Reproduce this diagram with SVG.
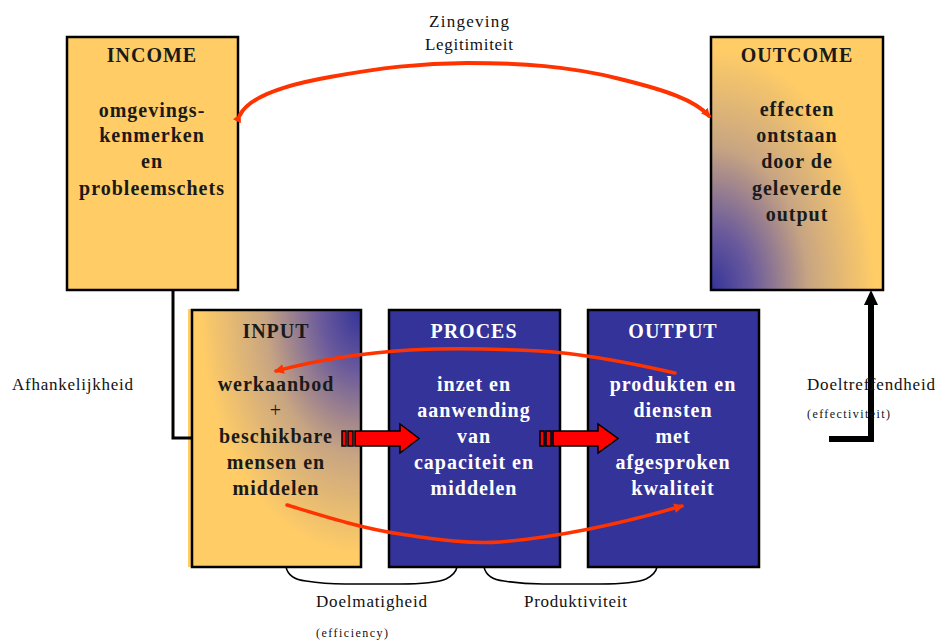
<svg xmlns="http://www.w3.org/2000/svg" width="938" height="641" viewBox="0 0 938 641">
<style>
.box{stroke:#000;stroke-width:2.5}
.bt{font-weight:bold;font-size:20px;text-anchor:middle;letter-spacing:1px}
.dark{fill:#1a1a1a}
.light{fill:#ffffff}
.lbl{font-size:17px;fill:#111}
.sm{font-size:12px;fill:#111}
.red{fill:none;stroke:#ff3300;stroke-linecap:round;stroke-linejoin:round}
.blk{fill:none;stroke:#000;stroke-linejoin:miter}
.barrow{fill:#ff0000;stroke:#000;stroke-width:1.5}
</style>
<defs>
<radialGradient id="gOut" cx="0" cy="1" r="0.95" fx="0" fy="1">
<stop offset="0" stop-color="#333399"/>
<stop offset="0.25" stop-color="#6a5a9c"/>
<stop offset="0.6" stop-color="#c8a582"/>
<stop offset="1" stop-color="#ffcc66"/>
</radialGradient>
<radialGradient id="gIn" cx="1" cy="0" r="0.95" fx="1" fy="0">
<stop offset="0" stop-color="#333399"/>
<stop offset="0.25" stop-color="#6a5a9c"/>
<stop offset="0.6" stop-color="#c8a582"/>
<stop offset="1" stop-color="#ffcc66"/>
</radialGradient>
<marker id="ah" viewBox="0 0 10 10" refX="8" refY="5" markerWidth="2.2" markerHeight="2.2" orient="auto" markerUnits="strokeWidth">
<path d="M0,0 L10,5 L0,10 Z" fill="#ff3300"/>
</marker>
<marker id="ah2" viewBox="0 0 10 10" refX="8" refY="5" markerWidth="2.8" markerHeight="2.8" orient="auto" markerUnits="strokeWidth">
<path d="M0,0 L10,5 L0,10 Z" fill="#ff3300"/>
</marker>
</defs>

<g font-family="Liberation Serif, Times New Roman, Times, serif">
<g id="income">
<rect class="box" x="67" y="37" width="171" height="253" fill="#ffcc66"/>
<text class="bt dark" x="152" y="62">INCOME</text>
<text class="bt dark" x="152" y="117">omgevings-</text>
<text class="bt dark" x="152" y="142">kenmerken</text>
<text class="bt dark" x="152" y="168">en</text>
<text class="bt dark" x="152" y="195">probleemschets</text>
</g>

<g id="outcome">
<rect class="box" x="711" y="37" width="172" height="253" fill="url(#gOut)"/>
<text class="bt dark" x="797" y="62">OUTCOME</text>
<text class="bt dark" x="797" y="116">effecten</text>
<text class="bt dark" x="797" y="142">ontstaan</text>
<text class="bt dark" x="797" y="168">door de</text>
<text class="bt dark" x="797" y="195">geleverde</text>
<text class="bt dark" x="797" y="221">output</text>
</g>

<g id="input">
<rect x="188" y="309" width="170" height="258" fill="#ffcc66"/>
<rect class="box" x="192" y="310" width="169" height="257" fill="url(#gIn)"/>
<text class="bt dark" x="276" y="338">INPUT</text>
<text class="bt dark" x="276" y="391">werkaanbod</text>
<text class="bt dark" x="276" y="417" font-weight="normal" style="font-weight:normal">+</text>
<text class="bt dark" x="276" y="443">beschikbare</text>
<text class="bt dark" x="276" y="469">mensen en</text>
<text class="bt dark" x="276" y="495">middelen</text>
</g>

<g id="proces">
<rect class="box" x="389" y="310" width="171" height="257" fill="#333399"/>
<text class="bt light" x="474" y="338">PROCES</text>
<text class="bt light" x="474" y="391">inzet en</text>
<text class="bt light" x="474" y="417">aanwending</text>
<text class="bt light" x="474" y="443">van</text>
<text class="bt light" x="474" y="469">capaciteit en</text>
<text class="bt light" x="474" y="495">middelen</text>
</g>

<g id="output">
<rect class="box" x="588" y="310" width="171" height="257" fill="#333399"/>
<text class="bt light" x="673" y="338">OUTPUT</text>
<text class="bt light" x="673" y="391">produkten en</text>
<text class="bt light" x="673" y="417">diensten</text>
<text class="bt light" x="673" y="443">met</text>
<text class="bt light" x="673" y="469">afgesproken</text>
<text class="bt light" x="673" y="495">kwaliteit</text>
</g>

<g id="connectors">
<path class="blk" stroke-width="3" d="M173,290 L173,438 L192,438"/>
<path class="blk" stroke-width="6" d="M829,439 L871,439 L871,303"/>
<path d="M864,305 L871,290 L878,305 Z" fill="#000"/>
<path class="red" stroke-width="4" marker-start="url(#ah)" marker-end="url(#ah)" d="M240,115 C250,95 290,84 330,77 C380,68 420,63 467,63 C520,63 570,66 620,79 C665,90 695,100 709,116"/>
<path class="red" stroke-width="3.5" marker-end="url(#ah2)" d="M675,373 C640,365 590,354 540,351 C500,349 450,348 410,350 C360,353 310,362 276,371"/>
<path class="red" stroke-width="3.5" marker-end="url(#ah2)" d="M287,505 C320,515 360,528 400,534 C440,540 470,544 500,542 C560,537 620,524 682,506"/>
<rect class="barrow" x="342" y="431" width="4" height="15"/>
<rect class="barrow" x="348" y="431" width="5" height="15"/>
<path class="barrow" d="M355,431 L400,431 L400,424 L419,438.5 L400,453 L400,446 L355,446 Z"/>
<rect class="barrow" x="540" y="431" width="4" height="15"/>
<rect class="barrow" x="546" y="431" width="5" height="15"/>
<path class="barrow" d="M553,431 L598,431 L598,424 L618,438.5 L598,453 L598,446 L553,446 Z"/>
<path class="blk" stroke-width="1.5" d="M286,567 C288,576 296,580 306,581 C318,583 330,584 345,584 L400,584 C420,584 436,583 446,579 C452,576 456,572 457,567"/>
<path class="blk" stroke-width="1.5" d="M484,567 C486,576 494,580 504,581 C516,583 528,584 543,584 L600,584 C620,584 636,583 646,579 C652,576 656,572 657,567"/>
</g>

<g id="labels">
<text class="lbl" x="469" y="27" text-anchor="middle" textLength="80" lengthAdjust="spacing">Zingeving</text>
<text class="lbl" x="469" y="50" text-anchor="middle" textLength="88" lengthAdjust="spacing">Legitimiteit</text>
<text class="lbl" x="12" y="390" textLength="121" lengthAdjust="spacing">Afhankelijkheid</text>
<text class="lbl" x="807" y="390" textLength="128" lengthAdjust="spacing">Doeltreffendheid</text>
<text class="sm" x="807" y="418" textLength="83" lengthAdjust="spacing">(effectiviteit)</text>
<text class="lbl" x="316" y="607" textLength="111" lengthAdjust="spacing">Doelmatigheid</text>
<text class="sm" x="316" y="637" textLength="72" lengthAdjust="spacing">(efficiency)</text>
<text class="lbl" x="524" y="607" textLength="103" lengthAdjust="spacing">Produktiviteit</text>
</g>
</g>
</svg>
